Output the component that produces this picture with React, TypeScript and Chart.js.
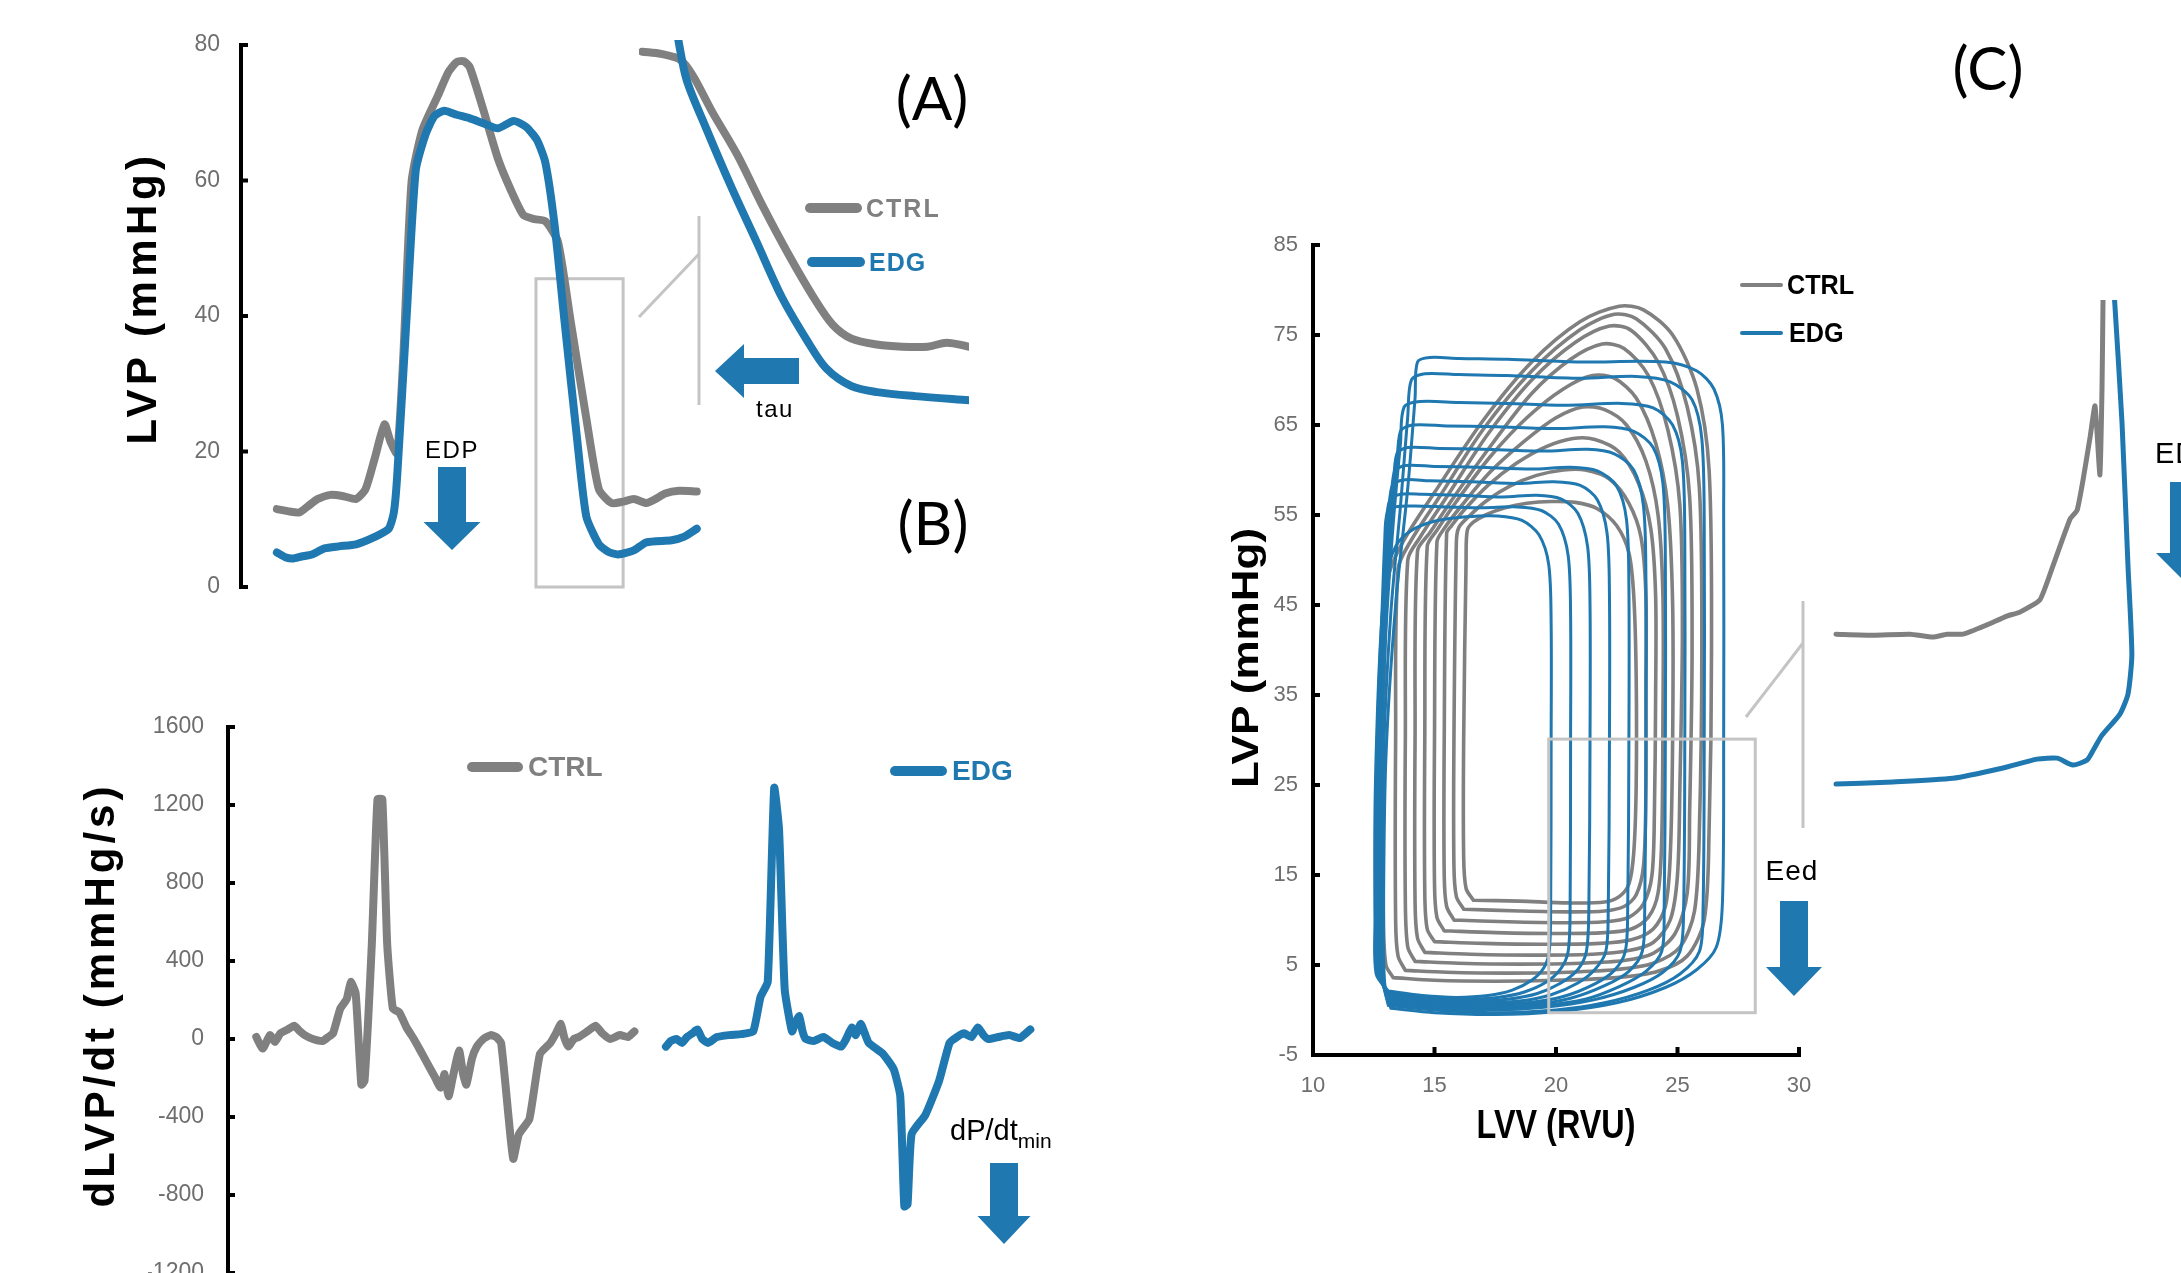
import React, { useEffect, useRef } from "react";
import { Chart, registerables } from "chart.js";

Chart.register(...registerables);

type Pt = [number, number];

const GRAY = "#808080";
const BLUE = "#1f78b0";
const BOX = "#c4c4c4";
const TICK = "#6e6e6e";
const SANS = "'Liberation Sans', Arial, sans-serif";
const NARROW = "'Liberation Sans Narrow', 'Liberation Sans', Arial, sans-serif";

// ---------------- Panel A : LVP traces (time a.u., mmHg) ----------------
const lvpTicks = [0, 20, 40, 60, 80];
const lvpCtrl: Pt[] = [
  [7.7, 11.5], [10, 11.2], [12.5, 11], [14.5, 12], [16.5, 13], [19.2, 13.6], [22, 13.4], [24.7, 13],
  [26.7, 14.4], [28.7, 19], [30.8, 24], [32.1, 21.4], [33.5, 19.7], [34.8, 33.6], [36.6, 59.8],
  [38.9, 67.4], [42.3, 72.6], [44.5, 76], [46.3, 77.5], [47.8, 77.6], [49.1, 76.7], [51.8, 70.9],
  [55.1, 63.3], [57.9, 58.6], [60.6, 54.9], [63, 54.3], [65.3, 54], [68, 51], [70.7, 39.4],
  [74.1, 24.9], [76.8, 14.4], [79.5, 12.4], [82, 12.6], [84.3, 13], [87, 12.4], [89, 13],
  [91, 13.8], [94, 14.2], [97.8, 14.1],
];
const lvpEdg: Pt[] = [
  [7.7, 5.1], [9.5, 4.4], [11.1, 4.2], [13, 4.5], [15.2, 4.8], [17.9, 5.7], [21, 6], [24.7, 6.3],
  [28.7, 7.4], [31.7, 8.6], [32.8, 11], [33.5, 16.2], [35.5, 39.4], [37.5, 61.5], [39.6, 66.8],
  [41.5, 69.5], [43.6, 70.3], [46.3, 69.7], [49, 69.2], [51.8, 68.5], [55.1, 67.7], [58.5, 68.8],
  [61.2, 67.9], [63.5, 66], [65.3, 62.7], [67.3, 53.4], [69.4, 39.4], [72.1, 22], [74.1, 10.4],
  [76.8, 6.3], [78.8, 5.2], [80.9, 4.8], [84.3, 5.4], [87, 6.6], [92.4, 6.9], [95, 7.4], [97.8, 8.6],
];
const lvpZoomX = [63.3, 82];
const lvpZoomY = [0, 45.5];

// inset (tau) – magnified relaxation phase, relative units
const tauCtrl: Pt[] = [
  [1, 96.8], [6.7, 96.2], [12.5, 94.6], [16.3, 90.3], [22.1, 80.5], [29.8, 68.6], [37.5, 54.6],
  [45.2, 41.6], [52.9, 29.7], [58.7, 22.2], [64.4, 18.4], [72.1, 16.8], [79.8, 16.2], [87.5, 16.2],
  [93.3, 17.3], [100, 16.2],
];
const tauEdg: Pt[] = [
  [11.5, 102], [14.4, 89.2], [20.2, 76.2], [27.9, 60], [35.6, 44.9], [43.3, 29.7], [51, 17.8],
  [56.7, 10.3], [64.4, 5.4], [72.1, 3.8], [83.7, 2.7], [100, 1.6],
];

// ---------------- Panel B : dLVP/dt (time a.u., mmHg/s) ----------------
const dpdtTicks = [-1200, -800, -400, 0, 400, 800, 1200, 1600];
const dpdtCtrl: Pt[] = [
  [3.5, 10], [4.3, -49], [5.2, 20], [5.8, -15], [6.5, 30], [7.4, 49], [8.2, 68], [8.9, 40], [9.5, 20],
  [10.5, 0], [11.7, -10], [12.4, 10], [13, 29], [13.9, 156], [14.7, 205], [15.2, 293], [15.8, 234],
  [16.5, -234], [16.9, -215], [17.8, 488], [18.5, 1229], [19.1, 1229], [19.7, 488], [20.4, 156],
  [21.2, 137], [22.1, 59], [23, 0], [23.8, -59], [24.6, -120], [25.6, -195], [26.3, -250],
  [26.8, -180], [27.3, -293], [27.8, -200], [28.6, -59], [29.1, -180], [29.5, -234], [30.2, -100],
  [30.8, -39], [31.6, 0], [32.5, 20], [33.2, 10], [33.8, -20], [34.7, -390], [35.3, -615], [36, -488],
  [37.3, -410], [38.6, -78], [39.9, -20], [40.6, 30], [41.2, 78], [41.6, 10], [42.1, -39], [42.8, 0],
  [43.4, 10], [44.5, 40], [45.5, 68], [46.3, 30], [47.3, 0], [48.5, 20], [49.5, 10], [50.3, 39],
];
const dpdtEdg: Pt[] = [
  [54.2, -39], [54.8, -10], [55.5, 0], [56.2, -20], [56.8, 10], [57.5, 30], [58.1, 49], [58.7, 0],
  [59.4, -20], [60.5, 10], [62, 20], [63.5, 25], [65, 39], [65.9, 215], [66.8, 293], [67.6, 1288],
  [68.2, 1073], [68.9, 254], [69.8, 39], [70.2, 80], [70.7, 117], [71.1, 40], [71.5, 0], [72.5, -10],
  [73.7, 10], [74.8, -20], [75.9, -39], [76.5, 0], [77.2, 59], [77.7, 20], [78.3, 78], [78.8, 30],
  [79.3, -20], [81.1, -78], [82.4, -156], [83.2, -293], [83.7, -859], [84.1, -849], [84.6, -488],
  [86.3, -390], [88, -215], [89.3, -20], [90.2, 10], [91.1, 29], [92, 10], [92.8, 59], [93.5, 20],
  [94.1, 0], [95.3, 10], [96.7, 20], [98, 5], [99.3, 49],
];

// ---------------- Panel C : PV loops (LVV RVU, LVP mmHg) ----------------
const pvXTicks = [10, 15, 20, 25, 30];
const pvYTicks = [-5, 5, 15, 25, 35, 45, 55, 65, 75, 85];
const pvCtrlLoops: Pt[][] = [
  [[13.3,3.6],[15,3.3],[17.5,3.2],[20,3.3],[22.5,3.6],[24.2,4.3],[25.4,6],[26.1,10],[26.3,20],[26.4,40],[26.3,60],[25.8,69],[24.8,75],[23.6,77.8],[22.6,78.2],[21,76.5],[19,72],[17,65.5],[15,57.5],[13.7,52],[13.1,48],[12.9,30],[12.9,10],[13.0,5],[13.3,3.6]],
  [[13.8,4.4],[15.5,4.2],[18,4.1],[20.5,4.2],[22.5,4.5],[24,5.2],[25.1,7],[25.7,11],[25.9,20],[26.0,40],[25.9,58],[25.4,67],[24.5,73.5],[23.3,76.8],[22.4,77.3],[21,75.6],[19,71],[17,64.5],[15.2,57],[14.0,52],[13.5,49],[13.4,30],[13.4,10],[13.5,6],[13.8,4.4]],
  [[14.2,5.4],[16,5.2],[18.5,5.1],[21,5.2],[22.8,5.5],[24,6.3],[24.9,8.5],[25.4,13],[25.5,22],[25.6,40],[25.5,57],[25,66],[24.2,72],[23.1,75.5],[22.2,76],[20.8,74.2],[19,70],[17.2,64],[15.5,57],[14.4,52.5],[13.9,50],[13.8,30],[13.8,12],[13.9,7],[14.2,5.4]],
  [[14.6,6.4],[16.5,6.2],[19,6.1],[21.5,6.2],[23,6.6],[24,7.5],[24.7,10],[25.0,15],[25.1,25],[25.2,42],[25.1,56],[24.6,64.5],[23.8,70.5],[22.8,73.5],[21.9,74],[20.6,72.3],[19,68.5],[17.4,63],[15.8,57],[14.8,53],[14.3,51],[14.2,30],[14.2,12],[14.3,8],[14.6,6.4]],
  [[15.0,7.6],[17,7.4],[19.5,7.3],[21.8,7.4],[23.1,7.8],[24,9],[24.5,11.5],[24.7,17],[24.8,30],[24.8,45],[24.6,56],[24.1,63],[23.3,68],[22.4,70.2],[21.5,70.5],[20.3,69],[18.8,65.8],[17.3,61.5],[15.9,56.5],[15.1,53.3],[14.7,51.5],[14.6,30],[14.6,13],[14.7,9],[15.0,7.6]],
  [[15.4,8.8],[17.5,8.6],[20,8.5],[22,8.6],[23.1,9],[23.8,10.3],[24.2,13],[24.35,19],[24.4,32],[24.4,46],[24.2,55],[23.7,61],[22.9,65],[22,66.7],[21.1,67],[20,65.8],[18.7,63.2],[17.3,59.8],[16.1,56],[15.4,53.5],[15.1,52],[15.0,30],[15.0,14],[15.1,10.3],[15.4,8.8]],
  [[15.8,10],[18,9.8],[20.3,9.7],[22,9.8],[23,10.3],[23.6,11.8],[23.95,15],[24.05,22],[24.1,35],[24.1,46],[23.9,53.5],[23.4,58.5],[22.6,62],[21.6,63.4],[20.7,63.5],[19.6,62.6],[18.4,60.8],[17.2,58.3],[16.2,55.5],[15.7,53.8],[15.5,53],[15.4,30],[15.4,15],[15.5,11.5],[15.8,10]],
  [[16.2,11.2],[18.5,11],[20.5,10.9],[22,11],[22.8,11.5],[23.3,12.8],[23.6,16],[23.7,24],[23.7,36],[23.7,46],[23.5,52.5],[23,56.3],[22.2,59],[21.2,60],[20.3,60],[19.2,59.4],[18.1,58.2],[17.1,56.5],[16.4,54.8],[16,53.6],[15.9,52],[15.8,30],[15.8,16],[15.9,12.6],[16.2,11.2]],
  [[16.6,12.2],[18.5,12.1],[20.5,11.9],[22,12],[22.6,12.6],[23,14],[23.2,17.5],[23.3,25],[23.3,37],[23.2,46],[23,50.8],[22.5,53.8],[21.7,55.7],[20.8,56.4],[19.8,56.5],[18.8,56.3],[17.9,55.8],[17.1,55],[16.6,54.2],[16.35,53.3],[16.3,50],[16.2,30],[16.2,17],[16.3,13.5],[16.6,12.2]],
];
const pvEdgLoops: Pt[][] = [
  [[13.2,0.2],[15,-0.3],[17.5,-0.5],[20,-0.2],[22.5,0.8],[24.5,2.5],[25.8,4.5],[26.6,7],[26.85,12],[26.9,30],[26.9,55],[26.85,65],[26.5,69],[25.8,71],[24.5,72],[21,72],[18,72.3],[16,72.4],[14.8,72.5],[14.3,72],[14.2,68],[13.9,58],[13.4,45],[13.0,28],[12.9,10],[12.95,3],[13.2,0.2]],
  [[13.1,0.5],[15,0],[17.5,-0.3],[20,0],[22,0.8],[23.8,2.2],[25.1,4],[25.9,6.5],[26.05,11],[26.1,30],[26.1,54],[26,63.5],[25.6,67.8],[24.7,69.8],[23.3,70.4],[21,70.2],[18,70.5],[16,70.6],[14.6,70.7],[14.05,70],[13.9,66],[13.6,56],[13.2,44],[12.9,28],[12.85,10],[12.9,3],[13.1,0.5]],
  [[13.1,0.7],[15,0.2],[17.5,0],[19.5,0.3],[21.5,1.1],[23.2,2.5],[24.4,4.2],[25.1,6.5],[25.25,11],[25.3,30],[25.3,52],[25.2,61],[24.8,65],[24,66.9],[22.7,67.4],[20.5,67.2],[18,67.4],[16,67.5],[14.4,67.6],[13.75,67],[13.6,63],[13.3,54],[13.0,42],[12.8,28],[12.8,10],[12.85,3.5],[13.1,0.7]],
  [[13.1,0.9],[15,0.4],[17.5,0.2],[19.5,0.5],[21.2,1.2],[22.6,2.6],[23.7,4.3],[24.35,6.5],[24.45,11],[24.5,30],[24.5,50],[24.4,58.5],[24.0,62.5],[23.2,64.3],[22,64.8],[20,64.6],[17.5,64.8],[15.5,64.9],[14.1,65],[13.6,64.3],[13.45,60],[13.2,52],[12.95,41],[12.8,27],[12.8,10],[12.85,4],[13.1,0.9]],
  [[13.1,1.1],[15,0.6],[17,0.4],[19,0.6],[20.6,1.3],[22,2.7],[23,4.3],[23.55,6.5],[23.65,11],[23.7,30],[23.7,48],[23.6,56],[23.2,60],[22.4,61.8],[21.3,62.3],[19.5,62.1],[17,62.3],[15.2,62.4],[13.9,62.5],[13.45,61.8],[13.3,57.5],[13.1,50],[12.9,40],[12.75,27],[12.75,10],[12.8,4],[13.1,1.1]],
  [[13.1,1.3],[15,0.8],[17,0.6],[18.8,0.8],[20.3,1.5],[21.6,2.9],[22.4,4.4],[22.85,6.5],[22.95,11],[23.0,30],[23.0,47],[22.9,54.5],[22.5,58.2],[21.7,59.9],[20.6,60.3],[19,60.1],[16.8,60.3],[15,60.4],[13.8,60.5],[13.35,59.8],[13.2,55.5],[13.0,48],[12.85,38],[12.7,26],[12.7,10],[12.75,4],[13.1,1.3]],
  [[13.1,1.5],[15,1],[16.8,0.8],[18.5,1],[19.8,1.7],[20.9,3],[21.6,4.5],[22.05,6.5],[22.15,11],[22.2,30],[22.2,46],[22.1,53],[21.7,56.7],[21,58.3],[19.9,58.7],[18.5,58.5],[16.5,58.7],[14.8,58.8],[13.7,58.9],[13.25,58.2],[13.1,54],[12.95,47],[12.8,37],[12.7,25],[12.7,10],[12.75,4],[13.1,1.5]],
  [[13.1,1.7],[14.8,1.2],[16.5,1],[18,1.2],[19.2,1.8],[20.2,3],[20.9,4.5],[21.25,6.5],[21.35,11],[21.4,30],[21.4,45],[21.3,51.5],[20.9,55.2],[20.2,56.8],[19.2,57.2],[17.8,57],[16,57.2],[14.5,57.3],[13.6,57.3],[13.15,56.6],[13.0,53],[12.9,46],[12.75,36],[12.65,25],[12.65,10],[12.7,4],[13.1,1.7]],
  [[13.1,1.9],[14.6,1.4],[16.2,1.2],[17.6,1.4],[18.7,2],[19.6,3.1],[20.2,4.6],[20.5,6.5],[20.58,11],[20.6,30],[20.6,44],[20.5,50.5],[20.1,54],[19.4,55.5],[18.4,55.9],[17,55.8],[15.5,55.9],[14.2,56],[13.4,55.9],[13.05,55.2],[12.95,52],[12.85,45],[12.7,35],[12.6,24],[12.6,10],[12.65,4],[13.1,1.9]],
  [[13.1,2.1],[14.5,1.6],[15.9,1.4],[17.2,1.6],[18.2,2.2],[19,3.3],[19.5,4.7],[19.72,6.5],[19.78,11],[19.8,30],[19.8,43],[19.7,49.5],[19.3,52.8],[18.6,54.4],[17.6,54.9],[16.3,54.8],[15,54.3],[14,53.2],[13.4,51.5],[13.0,48],[12.8,42],[12.65,33],[12.55,22],[12.55,10],[12.6,4],[13.1,2.1]],
];
const pvZoomX = [19.7, 28.2];
const pvZoomY = [-0.3, 30.1];

// inset (Eed) – magnified end-diastolic corner, relative units
const eedCtrl: Pt[] = [
  [1.7, 31.8], [12.3, 31.6], [22.8, 31.8], [29.3, 31.2], [33.3, 31.8], [37.9, 31.8], [44.7, 33.7],
  [50.4, 35.5], [54.1, 36.3], [59.8, 38.8], [63.5, 45.7], [68.4, 55.3], [70.4, 57.1], [72.1, 63.3],
  [74.1, 72], [75.5, 78.4], [76.9, 64.3], [77.5, 82.2], [77.8, 101],
];
const eedEdg: Pt[] = [
  [1.7, 1.2], [16.2, 1.6], [35, 2.4], [49.3, 4.5], [59, 6.3], [64.7, 6.5], [69.2, 5.1], [73.2, 6.1],
  [74.9, 8], [77.5, 11.2], [82.6, 15.5], [84.9, 19.6], [86, 27.6], [84.9, 45.7], [83.2, 74.9],
  [81.2, 98.6], [80.9, 102],
];

// ---------------- helpers ----------------
const ds = (pts: Pt[], color: string, width: number, order: number, tension = 0.25) => ({
  data: pts.map(([x, y]) => ({ x, y })),
  borderColor: color,
  backgroundColor: color,
  borderWidth: width,
  pointRadius: 0,
  pointHoverRadius: 0,
  tension,
  fill: false,
  order,
  borderCapStyle: "round",
  borderJoinStyle: "round",
});

const baseOpts = (padding: any, scales: any) => ({
  responsive: false,
  maintainAspectRatio: false,
  animation: false,
  devicePixelRatio: 1,
  events: [],
  layout: { padding, autoPadding: false },
  scales,
  plugins: { legend: { display: false }, tooltip: { enabled: false } },
});

const plainTick = (v: any) => String(v);

function ChartBox({ x, y, w, h, build }: { x: number; y: number; w: number; h: number; build: () => any }) {
  const ref = useRef<HTMLCanvasElement>(null);
  useEffect(() => {
    const c = new Chart(ref.current as HTMLCanvasElement, build());
    return () => c.destroy();
  }, []);
  return (
    <canvas
      ref={ref}
      width={w}
      height={h}
      style={{ position: "absolute", left: x, top: y, width: w, height: h }}
    />
  );
}

function vAxis(ctx: any, x: number, top: number, bottom: number, ys: number[], lw: number) {
  ctx.save();
  ctx.strokeStyle = "#000";
  ctx.lineWidth = lw;
  ctx.beginPath();
  ctx.moveTo(x, top);
  ctx.lineTo(x, bottom);
  ys.forEach((py) => {
    ctx.moveTo(x - lw / 2, py);
    ctx.lineTo(x + 7, py);
  });
  ctx.stroke();
  ctx.restore();
}

// ---------------- chart builders ----------------
const buildA = () => ({
  type: "line",
  data: { datasets: [ds(lvpEdg, BLUE, 8, 0, 0.2), ds(lvpCtrl, GRAY, 8, 1, 0.2)] },
  options: baseOpts({ left: 181, right: 53, top: 45, bottom: 53 }, {
    x: { type: "linear", min: 0, max: 100, display: false },
    y: {
      min: 0, max: 80,
      afterFit: (s: any) => { s.width = 60; },
      ticks: { stepSize: 20, color: TICK, padding: 21, font: { size: 23, family: SANS }, callback: plainTick },
      grid: { display: false, drawTicks: false },
      border: { display: false },
    },
  }),
  plugins: [{
    id: "axA",
    beforeDatasetsDraw(c: any) {
      const { ctx, scales: { x, y } } = c;
      const x0 = x.getPixelForValue(lvpZoomX[0]), x1 = x.getPixelForValue(lvpZoomX[1]);
      const y0 = y.getPixelForValue(lvpZoomY[1]), y1 = y.getPixelForValue(lvpZoomY[0]);
      ctx.save(); ctx.strokeStyle = BOX; ctx.lineWidth = 3; ctx.strokeRect(x0, y0, x1 - x0, y1 - y0); ctx.restore();
    },
    afterDraw(c: any) {
      const { ctx, chartArea, scales: { y } } = c;
      vAxis(ctx, chartArea.left, y.getPixelForValue(80) - 2, y.getPixelForValue(0) + 2,
        lvpTicks.map((v) => y.getPixelForValue(v)), 4);
    },
  }],
});

const buildTau = () => ({
  type: "line",
  data: { datasets: [ds(tauEdg, BLUE, 8, 0, 0.3), ds(tauCtrl, GRAY, 8, 1, 0.3)] },
  options: baseOpts(10, {
    x: { type: "linear", min: 0, max: 100, display: false },
    y: { type: "linear", min: 0, max: 100, display: false },
  }),
});

const buildB = () => ({
  type: "line",
  data: { datasets: [ds(dpdtEdg, BLUE, 8, 0, 0.15), ds(dpdtCtrl, GRAY, 8, 1, 0.15)] },
  options: baseOpts({ left: 148, right: 44, top: 47, bottom: 107 }, {
    x: { type: "linear", min: 0, max: 100, display: false },
    y: {
      min: -1200, max: 1600,
      afterFit: (s: any) => { s.width = 80; },
      ticks: { stepSize: 400, color: TICK, padding: 24, font: { size: 23, family: SANS }, callback: plainTick },
      grid: { display: false, drawTicks: false },
      border: { display: false },
    },
  }),
  plugins: [{
    id: "axB",
    afterDraw(c: any) {
      const { ctx, chartArea, scales: { y } } = c;
      vAxis(ctx, chartArea.left, y.getPixelForValue(1600) - 2, chartArea.bottom + 10,
        dpdtTicks.map((v) => y.getPixelForValue(v)), 4);
    },
  }],
});

const buildC = () => ({
  type: "line",
  data: {
    datasets: [
      ...pvEdgLoops.map((l) => ds(l, BLUE, 3, 0, 0.3)),
      ...pvCtrlLoops.map((l) => ds(l, GRAY, 3.6, 1, 0.3)),
    ],
  },
  options: baseOpts({ left: 83, right: 51, top: 45, bottom: 45 }, {
    x: {
      type: "linear", min: 10, max: 30,
      afterFit: (s: any) => { s.height = 100; },
      ticks: { stepSize: 5, color: TICK, padding: 18, font: { size: 22, family: NARROW }, callback: plainTick },
      grid: { display: false, drawTicks: false },
      border: { display: false },
    },
    y: {
      min: -5, max: 85,
      afterFit: (s: any) => { s.width = 80; },
      ticks: { stepSize: 10, color: TICK, padding: 15, font: { size: 22, family: NARROW }, callback: plainTick },
      grid: { display: false, drawTicks: false },
      border: { display: false },
    },
  }),
  plugins: [{
    id: "axC",
    afterDatasetsDraw(c: any) {
      const { ctx, scales: { x, y } } = c;
      const x0 = x.getPixelForValue(pvZoomX[0]), x1 = x.getPixelForValue(pvZoomX[1]);
      const y0 = y.getPixelForValue(pvZoomY[1]), y1 = y.getPixelForValue(pvZoomY[0]);
      ctx.save(); ctx.strokeStyle = BOX; ctx.lineWidth = 3; ctx.strokeRect(x0, y0, x1 - x0, y1 - y0); ctx.restore();
    },
    afterDraw(c: any) {
      const { ctx, scales: { x, y } } = c;
      const L = x.getPixelForValue(10), R = x.getPixelForValue(30);
      const T = y.getPixelForValue(85), B = y.getPixelForValue(-5);
      ctx.save();
      ctx.strokeStyle = "#000";
      ctx.lineWidth = 4;
      ctx.beginPath();
      ctx.moveTo(L, T - 2); ctx.lineTo(L, B); ctx.lineTo(R + 2, B);
      pvYTicks.forEach((v) => { const p = y.getPixelForValue(v); ctx.moveTo(L, p); ctx.lineTo(L + 7, p); });
      pvXTicks.forEach((v) => { const p = x.getPixelForValue(v); ctx.moveTo(p, B); ctx.lineTo(p, B - 8); });
      ctx.stroke();
      ctx.restore();
    },
  }],
});

const buildEed = () => ({
  type: "line",
  data: { datasets: [ds(eedEdg, BLUE, 5, 0, 0.2), ds(eedCtrl, GRAY, 5, 1, 0.15)] },
  options: baseOpts(10, {
    x: { type: "linear", min: 0, max: 100, display: false },
    y: { type: "linear", min: 0, max: 100, display: false },
  }),
});

// ---------------- annotation shapes ----------------
const downArrow = (cx: number, y0: number, y1: number, y2: number, sw: number, hw: number) =>
  `${cx - sw},${y0} ${cx + sw},${y0} ${cx + sw},${y1} ${cx + hw},${y1} ${cx},${y2} ${cx - hw},${y1} ${cx - sw},${y1}`;
const leftArrow = (tipX: number, cy: number, x1: number, x2: number, sh: number, hh: number) =>
  `${tipX},${cy} ${x1},${cy - hh} ${x1},${cy - sh} ${x2},${cy - sh} ${x2},${cy + sh} ${x1},${cy + sh} ${x1},${cy + hh}`;

const T = (props: any) => {
  const { x, y, children, anchor = "center", tf = "", style = {} } = props;
  const base = anchor === "center" ? "translate(-50%,-50%)" : "translateY(-50%)";
  return (
    <div
      style={{
        position: "absolute",
        left: x,
        top: y,
        whiteSpace: "nowrap",
        lineHeight: 1,
        fontFamily: SANS,
        transform: `${base} ${tf}`,
        transformOrigin: anchor === "center" ? "50% 50%" : "0 50%",
        ...style,
      }}
    >
      {children}
    </div>
  );
};

const Swatch = ({ x0, x1, y, w, color }: any) => (
  <div
    style={{
      position: "absolute",
      left: x0,
      top: y - w / 2,
      width: x1 - x0,
      height: w,
      background: color,
      borderRadius: w / 2,
    }}
  />
);

export default function App() {
  useEffect(() => {
    document.documentElement.style.overflow = "hidden";
    document.body.style.overflow = "hidden";
  }, []);

  const panelLbl = { fontFamily: "Lato, 'Open Sans', sans-serif", fontWeight: 400, fontSize: 60, color: "#000" };
  const note = { fontSize: 24, color: "#000", letterSpacing: 1.5 };

  return (
    <div
      style={{
        position: "absolute",
        left: 0,
        top: 0,
        width: 2181,
        height: 1273,
        overflow: "hidden",
        background: "#fff",
      }}
    >
      <ChartBox x={0} y={0} w={760} h={640} build={buildA} />
      <ChartBox x={629} y={30} w={350} h={386} build={buildTau} />
      <ChartBox x={0} y={680} w={1080} h={700} build={buildB} />
      <ChartBox x={1150} y={200} w={700} h={1000} build={buildC} />
      <ChartBox x={1820} y={290} w={371} h={510} build={buildEed} />

      <svg width={2181} height={1273} style={{ position: "absolute", left: 0, top: 0 }}>
        <g stroke={BOX} strokeWidth={3}>
          <line x1={639} y1={317} x2={699} y2={254} />
          <line x1={699} y1={216} x2={699} y2={405} />
          <line x1={1746} y1={717} x2={1803} y2={643} />
          <line x1={1803} y1={601} x2={1803} y2={828} />
        </g>
        <g fill={BLUE}>
          <polygon points={downArrow(452, 467, 522, 550, 14, 28.5)} />
          <polygon points={leftArrow(715, 371, 744, 799, 13, 27)} />
          <polygon points={downArrow(1004, 1163, 1216, 1244, 14, 26.5)} />
          <polygon points={downArrow(1794, 901, 967, 996, 14, 28)} />
          <polygon points={downArrow(2184, 482, 553, 581, 14, 28)} />
        </g>
      </svg>

      {/* axis titles */}
      <T x={142} y={298} tf="rotate(-90deg)" style={{ fontSize: 42, fontWeight: 700, letterSpacing: 4.5 }}>LVP (mmHg)</T>
      <T x={100} y={995} tf="rotate(-90deg)" style={{ fontSize: 42, fontWeight: 700, letterSpacing: 4 }}>dLVP/dt (mmHg/s)</T>
      <T x={1245} y={658} tf="rotate(-90deg) scaleX(1.19)" style={{ fontSize: 37, fontWeight: 700 }}>LVP (mmHg)</T>
      <T x={1556} y={1124} tf="scaleX(0.81)" style={{ fontSize: 40, fontWeight: 700 }}>LVV (RVU)</T>

      {/* panel letters */}
      <T x={932} y={97} style={panelLbl}>(A)</T>
      <T x={933} y={522} style={panelLbl}>(B)</T>
      <T x={1988} y={67} style={panelLbl}>(C)</T>

      {/* legends */}
      <Swatch x0={805} x1={862} y={208} w={10} color={GRAY} />
      <T x={866} y={208} anchor="left" style={{ fontSize: 25, fontWeight: 700, color: GRAY, letterSpacing: 2 }}>CTRL</T>
      <Swatch x0={807} x1={865} y={262} w={10} color={BLUE} />
      <T x={869} y={262} anchor="left" style={{ fontSize: 25, fontWeight: 700, color: BLUE, letterSpacing: 1 }}>EDG</T>

      <Swatch x0={467} x1={523} y={767} w={10} color={GRAY} />
      <T x={528} y={767} anchor="left" style={{ fontSize: 28, fontWeight: 700, color: GRAY }}>CTRL</T>
      <Swatch x0={890} x1={947} y={771} w={10} color={BLUE} />
      <T x={952} y={771} anchor="left" style={{ fontSize: 28, fontWeight: 700, color: BLUE }}>EDG</T>

      <Swatch x0={1740} x1={1783} y={285} w={4} color={GRAY} />
      <T x={1787} y={285} anchor="left" tf="scaleX(0.9)" style={{ fontSize: 28, fontWeight: 700, color: "#000" }}>CTRL</T>
      <Swatch x0={1740} x1={1783} y={333} w={4} color={BLUE} />
      <T x={1789} y={333} anchor="left" tf="scaleX(0.9)" style={{ fontSize: 28, fontWeight: 700, color: "#000" }}>EDG</T>

      {/* annotations */}
      <T x={452} y={450} style={note}>EDP</T>
      <T x={775} y={409} style={note}>tau</T>
      <div
        style={{
          position: "absolute",
          left: 950,
          top: 1116,
          fontFamily: SANS,
          fontSize: 29,
          lineHeight: "29px",
          whiteSpace: "nowrap",
          color: "#000",
        }}
      >
        dP/dt<span style={{ fontSize: 21, position: "relative", top: 8 }}>min</span>
      </div>
      <T x={1792} y={871} style={{ fontSize: 28, color: "#000", letterSpacing: 1 }}>Eed</T>
      <T x={2155} y={453} anchor="left" style={{ fontSize: 29, color: "#000", letterSpacing: 1 }}>EDP</T>
    </div>
  );
}
